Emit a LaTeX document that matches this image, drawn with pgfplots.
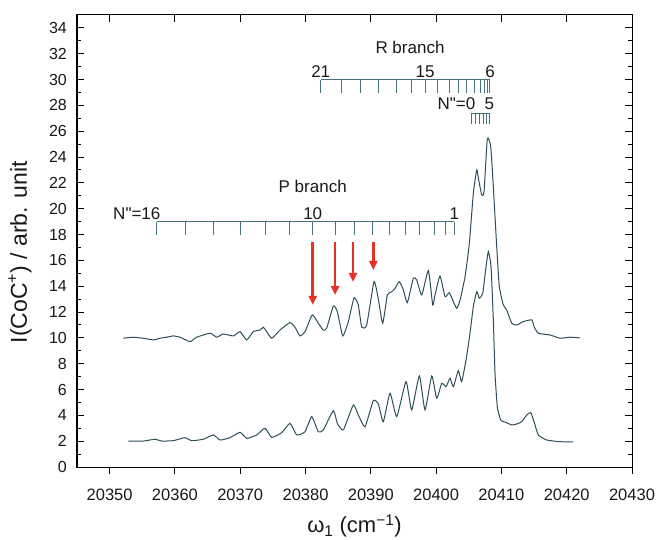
\documentclass[border=0pt]{standalone}
\usepackage{fontspec}
\setmainfont{Liberation Sans}[Ligatures=TeXOff]
\usepackage{pgfplots}
\usepackage{pgfplotstable}
\pgfplotsset{compat=1.18}
\usetikzlibrary{arrows.meta}
\definecolor{spec}{RGB}{45,78,88}
\definecolor{comb}{RGB}{70,112,122}
\definecolor{arr}{RGB}{232,48,36}
\definecolor{txt}{RGB}{25,25,25}

\pgfplotstableread{
x y
20352.09 9.97
20353.62 10.05
20355.15 9.97
20356.69 9.84
20357.71 9.97
20358.74 10.05
20359.75 10.15
20360.78 10.05
20362.31 9.71
20363.33 10.05
20365.37 10.36
20366.40 10.05
20367.41 10.30
20368.94 10.15
20369.97 10.48
20370.99 9.84
20372.00 10.48
20373.03 10.61
20373.53 10.82
20374.05 10.48
20374.82 9.97
20376.09 10.61
20377.62 11.18
20378.39 10.82
20379.16 10.15
20379.92 10.48
20381.04 11.77
20381.96 11.13
20382.72 10.61
20383.24 10.74
20384.26 12.47
20384.87 12.03
20385.70 10.15
20386.55 11.25
20387.43 13.11
20388.08 12.55
20388.61 10.82
20389.37 11.00
20390.49 14.35
20391.15 13.00
20391.82 11.13
20392.53 13.32
20393.20 13.57
20393.71 13.84
20394.36 14.35
20394.98 13.71
20395.59 12.73
20396.51 14.62
20397.03 14.48
20397.80 13.32
20398.81 15.21
20399.48 12.55
20399.83 13.32
20400.60 14.79
20401.36 13.19
20402.02 13.50
20402.64 12.80
20403.16 12.29
20403.66 12.91
20404.43 14.74
20405.09 17.33
20405.70 21.20
20406.22 23.01
20406.47 22.36
20406.98 21.07
20407.34 21.33
20407.84 25.40
20408.36 24.81
20408.76 21.71
20409.28 17.07
20409.68 13.97
20410.29 12.55
20410.81 12.16
20411.58 11.13
20412.34 11.00
20413.36 11.26
20414.64 11.39
20415.00 10.87
20415.65 10.36
20417.45 10.22
20418.98 9.97
20420.50 10.05
20422.00 10.00
}\upperdata

\pgfplotstableread{
x y
20352.86 2.01
20355.15 2.01
20356.95 2.15
20357.97 2.01
20359.75 2.04
20361.54 2.27
20362.57 2.04
20364.34 2.15
20365.88 2.48
20366.90 2.09
20368.43 2.27
20369.97 2.69
20370.99 2.22
20372.52 2.48
20373.79 3.00
20374.82 2.30
20376.35 2.66
20377.62 3.38
20378.65 2.48
20379.92 2.73
20380.95 3.90
20381.96 2.73
20382.72 2.87
20384.26 4.36
20384.87 3.38
20385.79 2.87
20387.32 4.80
20388.08 4.03
20389.11 3.12
20390.38 5.14
20391.15 4.88
20391.91 3.51
20392.94 5.71
20393.97 3.90
20395.39 6.61
20396.26 4.42
20397.43 7.05
20398.30 4.42
20399.33 7.05
20400.09 5.32
20400.86 6.48
20401.52 6.22
20402.13 6.87
20402.64 6.22
20403.40 7.46
20403.91 6.61
20404.58 8.29
20405.19 10.36
20405.70 12.42
20406.22 13.58
20406.62 13.07
20407.14 13.45
20407.64 15.52
20408.00 16.68
20408.41 15.52
20408.76 11.39
20409.02 7.26
20409.37 4.67
20409.89 3.64
20410.81 3.43
20411.58 3.25
20412.34 3.33
20413.11 3.51
20413.88 4.03
20414.49 4.21
20415.00 3.51
20415.65 2.48
20416.94 2.09
20418.98 1.96
20421.00 1.95
}\lowerdata

\begin{document}
\begin{tikzpicture}
\pgfplotsset{
  base/.style={
    scale only axis, width=555pt, height=452pt,
    xmin=20345, xmax=20430, ymin=0, ymax=35,
    axis line style={line width=1pt, black},
    every tick/.style={black, line width=1pt},
    major tick length=7pt, minor tick length=4pt,
    xtick={20350,20360,...,20430}, minor x tick num=1,
    ytick={0,2,...,34}, minor y tick num=1,
    scaled x ticks=false, scaled y ticks=false,
    tick label style={font=\fontsize{16pt}{19pt}\selectfont, text=txt},
    /pgf/number format/assume math mode=true,
    /pgf/number format/1000 sep={},
    /pgf/number format/fixed, /pgf/number format/precision=0,
  }
}
\begin{axis}[base, name=ax,
  tick align=inside, xtick pos=right, ytick pos=both, yticklabel pos=left,
  xticklabels={},
  yticklabel style={inner sep=0pt, anchor=east, xshift=-10pt},
  every axis y label/.style={at={(axis description cs:-0.1027,0.475)}, rotate=90, anchor=center},
  ylabel={I(CoC\textsuperscript{+}) / arb. unit},
  ylabel style={font=\fontsize{23pt}{26pt}\selectfont, text=txt},
  clip=false]
\addplot[spec, line width=1pt, smooth, tension=0.3] table[x=x,y=y] {\upperdata};
\addplot[spec, line width=1pt, smooth, tension=0.3] table[x=x,y=y] {\lowerdata};

% P branch comb
\addplot[comb, line width=1pt] coordinates {(20357.21,19) (20402.79,19)};
\addplot[comb, line width=1pt, unbounded coords=jump] coordinates {
(20357.21,19)(20357.21,18)(20357.21,nan)
(20361.65,19)(20361.65,18)(20361.65,nan)
(20365.98,19)(20365.98,18)(20365.98,nan)
(20370.07,19)(20370.07,18)(20370.07,nan)
(20373.90,19)(20373.90,18)(20373.90,nan)
(20377.62,19)(20377.62,18)(20377.62,nan)
(20381.10,19)(20381.10,18)(20381.10,nan)
(20384.52,19)(20384.52,18)(20384.52,nan)
(20387.43,19)(20387.43,18)(20387.43,nan)
(20390.29,19)(20390.29,18)(20390.29,nan)
(20392.83,19)(20392.83,18)(20392.83,nan)
(20395.24,19)(20395.24,18)(20395.24,nan)
(20397.53,19)(20397.53,18)(20397.53,nan)
(20399.68,19)(20399.68,18)(20399.68,nan)
(20401.36,19)(20401.36,18)(20401.36,nan)
(20402.79,19)(20402.79,18)
};
% R branch comb
\addplot[comb, line width=1pt] coordinates {(20382.33,30) (20408.25,30)};
\addplot[comb, line width=1pt, unbounded coords=jump] coordinates {
(20382.33,30)(20382.33,28.95)(20382.33,nan)
(20385.54,30)(20385.54,28.95)(20385.54,nan)
(20388.45,30)(20388.45,28.95)(20388.45,nan)
(20391.21,30)(20391.21,28.95)(20391.21,nan)
(20393.86,30)(20393.86,28.95)(20393.86,nan)
(20396.16,30)(20396.16,28.95)(20396.16,nan)
(20398.30,30)(20398.30,28.95)(20398.30,nan)
(20400.18,30)(20400.18,28.95)(20400.18,nan)
(20401.98,30)(20401.98,28.95)(20401.98,nan)
(20403.40,30)(20403.40,28.95)(20403.40,nan)
(20404.69,30)(20404.69,28.95)(20404.69,nan)
(20405.81,30)(20405.81,28.95)(20405.81,nan)
(20406.72,30)(20406.72,28.95)(20406.72,nan)
(20407.38,30)(20407.38,28.95)(20407.38,nan)
(20407.90,30)(20407.90,28.95)(20407.90,nan)
(20408.25,30)(20408.25,28.95)
};
% N''=0..5 comb
\addplot[comb, line width=1pt] coordinates {(20405.45,27.4) (20408.15,27.4)};
\addplot[comb, line width=1pt, unbounded coords=jump] coordinates {
(20405.45,27.4)(20405.45,26.55)(20405.45,nan)
(20405.96,27.4)(20405.96,26.55)(20405.96,nan)
(20406.62,27.4)(20406.62,26.55)(20406.62,nan)
(20407.23,27.4)(20407.23,26.55)(20407.23,nan)
(20407.75,27.4)(20407.75,26.55)(20407.75,nan)
(20408.15,27.4)(20408.15,26.55)
};
% arrows
\addplot[arr, line width=2.6pt, -{Triangle[width=8pt,length=9pt]}] coordinates {(20381.10,17.43) (20381.10,12.55)};
\addplot[arr, line width=2.6pt, -{Triangle[width=8pt,length=9pt]}] coordinates {(20384.52,17.43) (20384.52,13.32)};
\addplot[arr, line width=2.6pt, -{Triangle[width=8pt,length=9pt]}] coordinates {(20387.27,17.43) (20387.27,14.33)};
\addplot[arr, line width=2.6pt, -{Triangle[width=8pt,length=9pt]}] coordinates {(20390.38,17.43) (20390.38,15.26)};

\begin{scope}[every node/.style={font=\fontsize{17pt}{20pt}\selectfont, text=txt, inner sep=0pt}]
\node at (axis cs:20381.1,21.7) {P branch};
\node[anchor=base east] at (axis cs:20357.8,19.15) {N"=16};
\node[anchor=base] at (axis cs:20381.1,19.15) {10};
\node[anchor=base] at (axis cs:20402.8,19.15) {1};
\node at (axis cs:20396.0,32.5) {R branch};
\node[anchor=base] at (axis cs:20382.33,30.13) {21};
\node[anchor=base] at (axis cs:20398.3,30.13) {15};
\node[anchor=base] at (axis cs:20408.25,30.13) {6};
\node[anchor=base east] at (axis cs:20406.03,27.7) {N"=0};
\node[anchor=base] at (axis cs:20408.15,27.7) {5};
\end{scope}
\end{axis}

\begin{axis}[base,
  tick align=outside, xtick pos=left, ytick=\empty,
  xticklabel style={inner sep=0pt, anchor=north, yshift=-15pt, font=\fontsize{16.5pt}{19pt}\selectfont},
  every axis x label/.style={at={(axis description cs:0.5,-0.13)}, anchor=center},
  xlabel={ω\textsubscript{1} (cm\textsuperscript{−1})},
  xlabel style={font=\fontsize{22pt}{25pt}\selectfont, text=txt}]
\end{axis}

\pgfresetboundingbox
\path[use as bounding box] ([shift={(-77pt,-72pt)}]ax.south west) rectangle ([shift={(25pt,15pt)}]ax.north east);
\end{tikzpicture}
\end{document}
